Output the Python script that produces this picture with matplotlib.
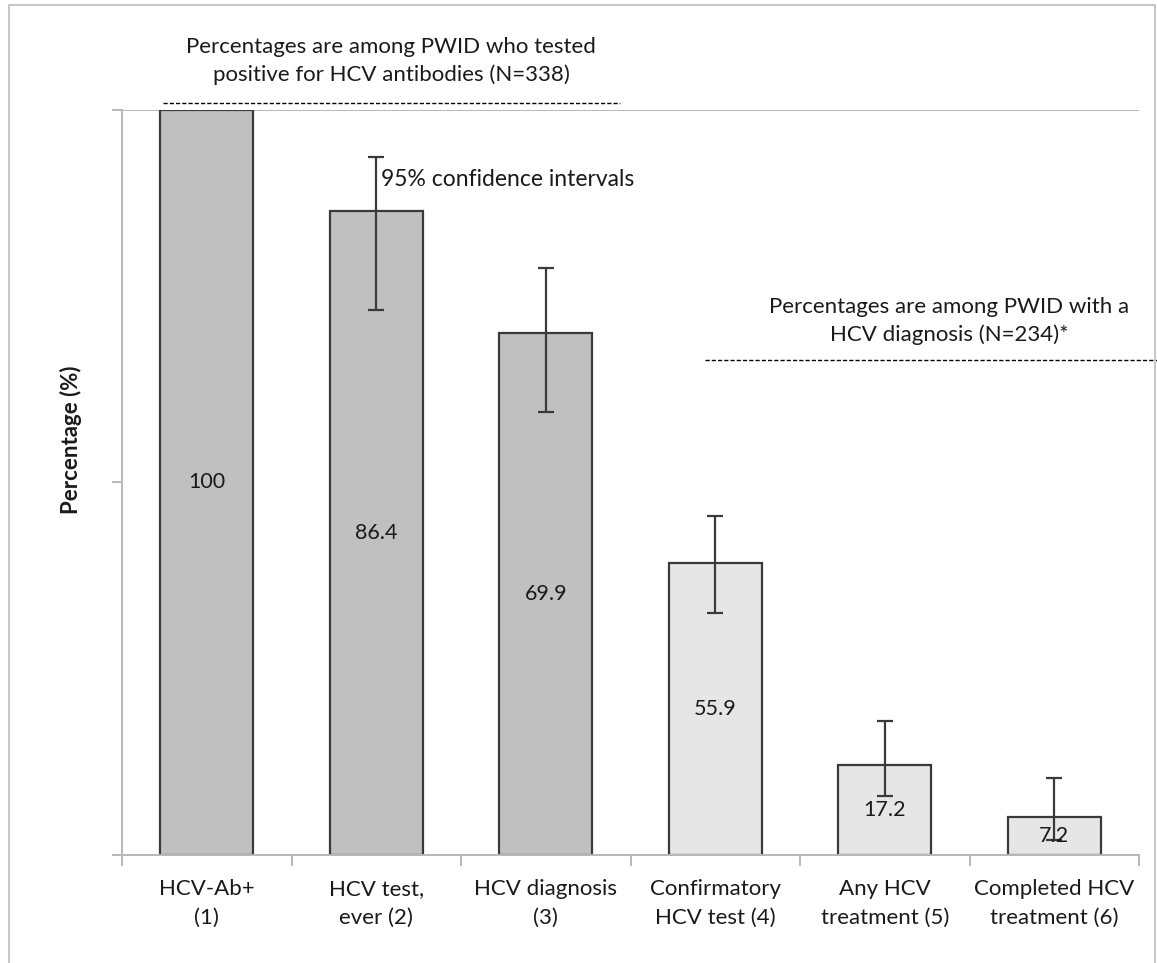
import numpy as np
import matplotlib
matplotlib.use('Agg')
from matplotlib import pyplot as plt
from matplotlib.lines import Line2D

plt.rcParams['font.family'] = ['Lato', 'DejaVu Sans']

categories = ['HCV-Ab+\n(1)', 'HCV test,\never (2)', 'HCV diagnosis\n(3)',
              'Confirmatory\nHCV test (4)', 'Any HCV\ntreatment (5)', 'Completed HCV\ntreatment (6)']
# bar heights as drawn (share of all HCV-Ab+), labels as printed
heights = [100, 86.4, 70.0, 39.2, 12.1, 5.1]
labels = ['100', '86.4', '69.9', '55.9', '17.2', '7.2']
ci_low = [np.nan, 73.1, 59.5, 32.5, 7.9, 2.0]
ci_high = [np.nan, 93.7, 78.8, 45.5, 18.0, 10.3]
colors = ['#c0c0c0', '#c0c0c0', '#c0c0c0', '#e6e6e6', '#e6e6e6', '#e6e6e6']

W, H = 1157, 963
fig = plt.figure(figsize=(W / 100, H / 100), dpi=100)


def fx(x):
    return x / W


def fy(y):
    return 1 - y / H


ax = fig.add_axes([fx(122), fy(855), fx(1139) - fx(122), fy(110) - fy(855)])

x = np.arange(len(categories))
ax.bar(x, heights, 0.55, color=colors, edgecolor='#3a3a3a', linewidth=1.6, zorder=2)

h = np.array(heights)
yerr = [h - np.array(ci_low), np.array(ci_high) - h]
ax.errorbar(x, h, yerr=yerr, fmt='none', ecolor='#3a3a3a', elinewidth=1.6,
            capsize=6, capthick=1.6, zorder=3)

for xi, hi, lab in zip(x, heights, labels):
    ax.text(xi, hi / 2, lab, ha='center', va='center', fontsize=15.5, color='#1a1a1a', zorder=4)

ax.set_xlim(-0.5, 5.5)
ax.set_ylim(0, 100)
ax.set_yticks([0, 50, 100])
ax.set_yticklabels([])
ax.set_xticks(np.arange(-0.5, 6, 1))
ax.set_xticklabels([])
ax.tick_params(axis='both', color='#b8b8b8', width=1.4, length=7, direction='out')
ax.tick_params(axis='x', length=8)
for xi, cat in zip(x, categories):
    ax.text(xi, -3.2, cat, ha='center', va='top', fontsize=16, color='#1a1a1a',
            linespacing=1.55, clip_on=False)

for side in ['top', 'right']:
    ax.spines[side].set_visible(False)
for side in ['left', 'bottom']:
    ax.spines[side].set_color('#b8b8b8')
    ax.spines[side].set_linewidth(1.4)
ax.axhline(100, color='#b8b8b8', lw=1.4, zorder=1)

fig.text(fx(71), fy(440), 'Percentage (%)', rotation=90, ha='center', va='center',
         fontsize=16, fontweight='bold', color='#1a1a1a')

fig.text(fx(391), fy(61), 'Percentages are among PWID who tested\npositive for HCV antibodies (N=338)',
         ha='center', va='center', fontsize=16, color='#1a1a1a', linespacing=1.45)
fig.add_artist(Line2D([fx(163), fx(620)], [fy(103), fy(103)], color='black', lw=1.0,
                      linestyle=(0, (3, 1.5))))

fig.text(fx(381), fy(180), '95% confidence intervals', ha='left', va='center',
         fontsize=16.5, color='#1a1a1a')

fig.text(fx(949), fy(321), 'Percentages are among PWID with a\nHCV diagnosis (N=234)*',
         ha='center', va='center', fontsize=16, color='#1a1a1a', linespacing=1.45)
fig.add_artist(Line2D([fx(705), fx(1157)], [fy(360), fy(360)], color='black', lw=1.0,
                      linestyle=(0, (3, 1.5))))

# outer frame
fig.add_artist(Line2D([fx(9), fx(9), fx(1155), fx(1155)], [0, fy(5), fy(5), 0],
                      color='#c8c8c8', lw=1.5))

fig.savefig('out.png', dpi=100)
